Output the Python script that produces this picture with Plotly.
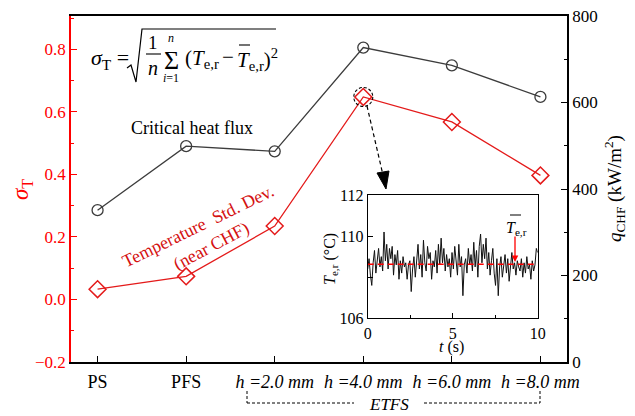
import plotly.graph_objects as go

# ---------------- data ----------------
categories = ["PS", "PFS", "h =2.0 mm", "h =4.0 mm", "h =6.0 mm", "h =8.0 mm"]
sigma_T = [0.033, 0.074, 0.235, 0.648, 0.568, 0.397]          # left axis
q_chf = [351, 499, 487, 727, 686, 613]                        # right axis, kW/m2

left_ticks = [-0.2, 0.0, 0.2, 0.4, 0.6, 0.8]
right_ticks = [0, 200, 400, 600, 800]

# inset time series (near CHF, h = 4.0 mm)
t_step = 0.08
T_er = [108.4, 108.9, 108.1, 107.6, 108.7, 109.3, 108.2, 108.9, 109.4, 108.5, 109.0, 108.3, 110.2,
        108.8, 109.6, 108.4, 109.4, 108.9, 109.5, 108.1, 109.1, 108.6, 109.3, 107.9, 108.8,
        108.2, 109.0, 108.5, 108.7, 107.9, 108.6, 108.8, 107.3, 108.4, 109.0, 108.0, 108.9, 109.6,
        108.4, 109.1, 108.0, 109.8, 108.7, 108.3, 109.5, 108.9, 109.2, 107.9, 108.8, 108.5,
        109.3, 108.2, 109.6, 108.6, 109.9, 108.7, 109.4, 108.3, 109.1, 108.5, 108.9, 108.0, 109.2,
        108.4, 109.5, 108.7, 108.1, 109.6, 108.5, 109.0, 107.1, 108.6, 108.9, 108.2, 109.4,
        108.6, 109.1, 108.3, 109.7, 108.5, 109.3, 108.0, 109.5, 110.1, 108.7, 109.6, 108.9, 109.9,
        108.4, 109.2, 108.1, 108.8, 109.4, 108.2, 107.6, 108.9, 107.1, 108.5, 109.0, 108.0,
        108.7, 109.1, 108.2, 108.9, 107.8, 108.6, 109.2, 108.4, 108.7, 108.1, 108.8, 108.5, 108.3,
        108.9, 108.0, 108.7, 108.2, 109.0, 108.4, 108.6, 107.9, 108.8, 108.3, 108.6, 109.4, 109.2]
t_s = [round(i * t_step, 2) for i in range(len(T_er))]
T_mean = 108.63
inset_yticks = [106, 108, 110, 112]
inset_yticktext = ["106", "", "110", "112"]
inset_xticks = [0, 5, 10]

# ---------------- layout helpers ----------------
FW, FH = 635, 416
L, R, T, B = 71, 567, 16, 362
W, H = R - L, B - T
def px(x):
    return (x - L) / W
def py(y):
    return (B - y) / H

FONT = "Liberation Serif, Times New Roman, Times, serif"
RED = "#ff0000"
LRED = "#e41a1a"
TRED = "#d41010"
DARK = "#3c3c3c"

fig = go.Figure()

xpos = list(range(len(categories)))
fig.add_trace(go.Scatter(
    x=xpos, y=q_chf, yaxis="y2", mode="lines+markers",
    line=dict(color=DARK, width=1.3),
    marker=dict(symbol="circle-open", size=11, color=DARK, line=dict(width=1.3)),
    showlegend=False))
fig.add_trace(go.Scatter(
    x=xpos, y=sigma_T, yaxis="y", mode="lines+markers",
    line=dict(color=LRED, width=1.3),
    marker=dict(symbol="diamond-open", size=13, color=LRED, line=dict(width=1.5)),
    showlegend=False))

# inset
fig.add_trace(go.Scatter(
    x=t_s, y=T_er, xaxis="x2", yaxis="y3", mode="lines",
    line=dict(color="#111111", width=1), showlegend=False))
fig.add_trace(go.Scatter(
    x=[0, 10], y=[T_mean, T_mean], xaxis="x2", yaxis="y3", mode="lines",
    line=dict(color=RED, width=1.5, dash="6px,4px"), showlegend=False))

ticktext = ["PS", "PFS"] + ["<i>%s</i>" % c for c in categories[2:]]

fig.update_layout(
    template="none",
    width=FW, height=FH,
    margin=dict(l=L, r=FW - R, t=T, b=FH - B, pad=0),
    paper_bgcolor="white", plot_bgcolor="white",
    font=dict(family=FONT, size=17, color="black"),
    xaxis=dict(
        range=[-0.3, 5.3], tickvals=xpos, ticktext=ticktext, automargin=False,
        showline=True, mirror=True, linecolor="black", linewidth=1.5,
        ticks="inside", ticklen=6, tickcolor="black", tickwidth=1.3, ticklabelstandoff=3,
        showgrid=False, zeroline=False, tickfont=dict(family=FONT, size=18)),
    yaxis=dict(
        range=[-0.2, 0.907], tickvals=left_ticks, tickformat=".1f", automargin=False,
        showline=True, linecolor=RED, linewidth=1.5,
        ticks="inside", ticklen=6, tickcolor=RED, tickwidth=1.3,
        minor=dict(dtick=0.1, tick0=-0.2, ticks="inside", ticklen=3.5, tickcolor=RED, tickwidth=1.2),
        tickfont=dict(family=FONT, color=RED, size=17),
        showgrid=False, zeroline=False),
    yaxis2=dict(
        range=[0, 800], tickvals=right_ticks, overlaying="y", side="right", automargin=False,
        showline=True, linecolor="black", linewidth=1.5,
        ticks="inside", ticklen=6, tickcolor="black", tickwidth=1.3,
        minor=dict(dtick=100, tick0=0, ticks="inside", ticklen=3.5, tickcolor="black", tickwidth=1.2),
        tickfont=dict(family=FONT, size=17), showgrid=False, zeroline=False),
    xaxis2=dict(
        domain=[px(367.7), px(537.7)], anchor="y3", range=[0, 10], automargin=False,
        tickvals=inset_xticks, showline=True, mirror=True, linecolor="black", linewidth=1.2,
        ticks="inside", ticklen=5, tickcolor="black",
        minor=dict(dtick=2.5, ticks="inside", ticklen=3, tickcolor="black"),
        tickfont=dict(family=FONT, size=16), showgrid=False, zeroline=False),
    yaxis3=dict(
        domain=[py(318.3), py(195)], anchor="x2", range=[106, 112], automargin=False,
        tickvals=inset_yticks, ticktext=inset_yticktext,
        showline=True, mirror=True, linecolor="black", linewidth=1.2,
        ticks="inside", ticklen=5, tickcolor="black",
        tickfont=dict(family=FONT, size=16), showgrid=False, zeroline=False),
)

ann = []
def text(x, y, s, size=17, color="black", xanchor="center", yanchor="middle", angle=0):
    ann.append(dict(xref="paper", yref="paper", x=px(x), y=py(y), text=s, showarrow=False,
                    xanchor=xanchor, yanchor=yanchor, textangle=angle,
                    font=dict(family=FONT, size=size, color=color)))

# axis titles
text(22, 190, "<i>σ</i><sub>T</sub>", size=23, color=RED, angle=-90)
text(614, 189, "<i>q</i><sub>CHF</sub> (kW/m<sup>2</sup>)", size=19, angle=-90)
text(330, 259, "<i>T</i><sub>e,r</sub> (°C)", size=16, angle=-90)
text(451, 347, "<i>t</i> (s)", size=16)

# series labels
text(192, 128, "Critical heat flux", size=18)
text(198, 226, "Temperature  Std. Dev.", size=18, color=TRED, angle=-26)
text(211, 246, "(near CHF)", size=18, color=TRED, angle=-28)

# formula
text(89, 59, "<i>σ</i><sub>T</sub> =", size=22, xanchor="left")
text(153, 42, "1", size=19)
text(153, 68, "<i>n</i>", size=20)
text(171, 60, "Σ", size=26)
text(171, 38, "<i>n</i>", size=12)
text(171, 78, "<i>i</i>=1", size=12)
text(183, 59, "(<i>T</i><sub>e,r</sub>", size=21, xanchor="left")
text(228, 57, "−", size=21)
text(235, 59, "<i>T</i><sub>e,r</sub>)<sup>2</sup>", size=21, xanchor="left")

# inset mean label
text(516, 229, "<i>T</i><sub>e,r</sub>", size=16)

# ETFS
text(389, 404, "<i>ETFS</i>", size=17)

# red arrow in inset
ann.append(dict(xref="paper", yref="paper", x=px(515), y=py(262), text="", showarrow=True,
                ax=0, ay=-27, arrowcolor=RED, arrowwidth=1.3, arrowhead=2, arrowsize=1))

fig.update_layout(annotations=ann)

shapes = []
def seg(x0, y0, x1, y1, color="black", width=1.2, dash="solid"):
    shapes.append(dict(type="line", xref="paper", yref="paper",
                       x0=px(x0), y0=py(y0), x1=px(x1), y1=py(y1),
                       line=dict(color=color, width=width, dash=dash)))
def path(pts, color="black", width=1.2, fill=None, close=False):
    d = "M " + " L ".join("%f,%f" % (px(a), py(b)) for a, b in pts)
    if close:
        d += " Z"
    shapes.append(dict(type="path", xref="paper", yref="paper", path=d,
                       line=dict(color=color, width=width),
                       fillcolor=fill if fill else "rgba(0,0,0,0)"))

# radical sign + overline
path([(127, 68), (131, 65), (136, 82), (142, 29), (276, 29)], width=1.2)
# fraction bar
seg(146, 54, 161, 54, width=1.1)
# bar over second T
seg(239, 45, 250, 45, width=1.1)
# bar over inset T
seg(510, 215, 521, 215, width=1.0)

# dashed circle around h=4 marker
shapes.append(dict(type="circle", xref="x", yref="y", xsizemode="pixel", ysizemode="pixel",
                   xanchor=3, yanchor=sigma_T[3], x0=-9.5, x1=9.5, y0=-9.5, y1=9.5,
                   line=dict(color="black", width=1.1, dash="3px,2px")))
# dashed arrow
seg(367, 106, 383, 175, width=1.2, dash="4px,3px")
path([(386, 189), (377, 173), (389, 171)], width=1, fill="black", close=True)

# ETFS bracket
seg(247, 391, 247, 403, width=1, dash="3px,2px")
seg(540, 391, 540, 403, width=1, dash="3px,2px")
seg(247, 403, 354, 403, width=1, dash="3px,2px")
seg(424, 403, 540, 403, width=1, dash="3px,2px")

fig.update_layout(shapes=shapes)

fig.write_html("out.html", config={"displayModeBar": False},
               post_script="document.body.style.margin='0px';")
